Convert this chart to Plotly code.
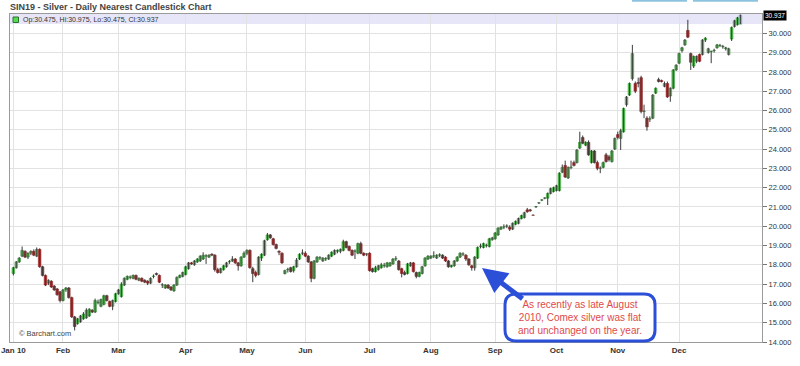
import plotly.graph_objects as go
import pandas as pd

# ---------------- data ----------------
holidays = ["2010-01-18", "2010-02-15", "2010-04-02", "2010-05-31",
            "2010-07-05", "2010-09-06", "2010-11-25", "2010-12-24"]
days = [d.strftime("%Y-%m-%d") for d in pd.bdate_range("2010-01-06", "2010-12-31")
        if d.strftime("%Y-%m-%d") not in holidays]

opens = [
    17.55,17.85,18.15,18.45,18.70,18.40,18.60,18.70,18.45,18.80,17.90,17.45,17.05,17.15,16.90,16.75,16.60,
    16.15,16.70,16.80,16.30,15.30,14.95,15.05,15.20,15.25,15.35,15.65,15.55,16.05,15.85,15.95,16.40,16.10,15.85,16.10,
    16.50,16.35,16.95,17.25,17.35,17.30,17.45,17.20,17.30,17.20,17.15,17.05,17.40,17.55,17.45,16.95,16.80,16.95,16.85,16.65,16.95,17.35,17.40,
    17.50,17.80,18.10,18.00,18.15,18.20,18.30,18.45,18.40,18.55,18.50,17.75,17.60,17.75,17.90,18.15,18.20,18.30,18.10,17.95,18.40,
    18.60,18.75,17.80,17.60,17.50,18.35,18.50,19.30,19.55,19.35,19.05,18.70,18.60,17.55,17.75,17.85,17.70,17.90,18.30,18.60,
    18.60,18.45,18.15,17.30,18.15,18.35,18.20,18.30,18.30,18.45,18.55,18.70,18.70,18.75,19.20,18.95,18.75,18.70,18.60,19.10,18.60,18.55,
    18.60,17.80,17.65,17.75,17.85,17.95,17.90,17.95,18.05,18.30,18.20,17.80,17.60,17.55,17.95,18.10,17.60,17.40,17.55,17.95,18.30,
    18.35,18.45,18.35,18.50,18.50,18.40,18.20,17.90,17.95,18.20,18.40,18.55,18.50,18.30,17.95,17.85,18.35,18.95,18.90,19.00,18.95,19.30,
    19.35,19.55,19.85,19.95,20.00,19.95,19.85,20.10,20.15,20.40,20.45,20.85,20.85,20.58,21.00,21.20,21.35,21.45,21.45,21.70,21.80,
    21.85,21.85,22.80,23.15,22.50,23.05,23.30,23.30,24.05,24.60,24.20,24.35,23.30,23.90,23.30,23.00,23.05,23.70,23.60,23.35,24.00,
    24.75,24.55,24.90,26.30,26.80,27.65,27.40,27.45,27.70,25.95,25.60,25.55,25.60,26.90,27.60,27.55,27.25,27.40,26.75,27.15,28.10,
    28.45,29.10,29.40,30.15,28.95,28.30,28.55,28.90,28.90,29.65,29.00,29.05,29.10,29.25,29.35,29.30,29.20,28.90,29.70,30.35,30.45,30.475,
]
highs = [
    17.90,18.20,18.40,18.95,18.75,18.65,18.75,18.80,18.90,18.85,17.95,17.50,17.25,17.20,16.95,16.80,16.65,
    16.75,16.85,16.85,16.35,15.35,15.25,15.40,15.55,15.75,15.75,15.70,16.25,16.20,16.25,16.45,16.45,16.15,16.20,16.55,
    16.75,17.10,17.35,17.45,17.45,17.50,17.50,17.35,17.35,17.25,17.20,17.35,17.50,17.60,17.50,17.05,17.00,17.00,16.90,17.00,17.40,17.50,17.65,
    17.95,18.15,18.15,18.25,18.35,18.50,18.65,18.55,18.55,18.60,18.55,17.85,17.85,18.00,18.15,18.25,18.45,18.35,18.15,18.45,18.70,
    18.80,18.80,17.90,17.70,18.45,18.60,19.30,19.65,19.60,19.40,19.10,18.75,18.65,17.75,17.85,17.90,17.95,18.35,18.60,18.80,
    18.70,18.50,18.20,18.25,18.45,18.45,18.40,18.40,18.55,18.70,18.80,18.80,18.85,19.30,19.25,19.00,18.80,18.80,19.15,19.20,18.65,18.60,
    18.65,17.85,17.95,18.00,18.10,18.10,18.15,18.15,18.35,18.45,18.25,17.85,17.70,18.10,18.15,18.15,17.65,17.65,17.95,18.40,18.50,
    18.50,18.70,18.55,18.60,18.55,18.45,18.25,18.00,18.25,18.45,18.65,18.65,18.55,18.35,18.00,18.45,18.95,19.10,19.15,19.10,19.40,19.45,
    19.70,19.95,20.00,20.10,20.10,20.05,20.20,20.30,20.45,20.60,20.75,20.95,20.90,20.60,21.05,21.25,21.40,21.50,21.75,22.00,22.05,
    22.15,22.80,23.20,23.40,23.10,23.40,23.40,24.00,24.90,24.70,24.40,24.45,23.95,23.95,23.40,23.10,23.35,23.80,23.70,23.95,24.60,
    24.90,25.05,26.15,26.75,27.45,29.40,27.50,27.70,27.80,26.30,25.70,25.70,26.85,27.20,27.70,27.60,27.50,27.50,27.20,28.15,28.40,
    29.00,29.30,29.70,30.70,29.00,28.85,28.85,28.95,29.70,29.80,29.25,29.10,29.20,29.45,29.45,29.40,29.30,29.25,30.35,30.70,30.85,30.975,
]
lows = [
    17.45,17.80,18.10,18.40,18.35,18.30,18.50,18.45,18.40,17.85,17.40,16.90,16.95,16.80,16.65,16.40,16.05,
    16.10,16.60,16.25,15.25,14.60,14.90,15.00,15.15,15.20,15.30,15.50,15.50,15.95,15.80,15.90,16.10,15.80,15.65,16.05,
    16.45,16.30,16.90,17.20,17.25,17.25,17.20,17.15,17.10,17.05,16.95,17.00,17.30,17.45,17.05,16.80,16.75,16.75,16.65,16.60,16.90,17.30,17.35,
    17.45,17.75,18.00,17.95,18.10,18.15,18.25,18.05,18.35,18.45,17.65,17.55,17.55,17.70,17.85,18.05,18.15,18.05,17.70,17.90,18.35,
    18.50,17.80,17.10,17.35,17.45,18.20,18.45,19.25,19.35,19.00,18.80,18.50,18.05,17.50,17.60,17.60,17.60,17.85,18.25,18.50,
    18.40,18.10,17.10,17.25,18.10,18.25,18.15,18.20,18.25,18.40,18.50,18.60,18.60,18.70,18.85,18.70,18.45,18.30,18.55,18.55,18.45,18.45,
    17.65,17.60,17.60,17.70,17.80,17.85,17.85,17.90,18.00,18.20,17.70,17.35,17.45,17.50,17.90,17.60,17.30,17.35,17.50,17.90,18.25,
    18.30,18.35,18.30,18.40,18.30,18.15,17.85,17.85,17.90,18.15,18.35,18.45,18.20,17.95,17.70,17.70,18.30,18.85,18.85,18.90,18.90,19.25,
    19.30,19.50,19.80,19.85,19.90,19.75,19.80,20.05,20.10,20.35,20.40,20.70,20.75,20.55,20.95,21.15,21.30,21.40,21.10,21.65,21.75,
    21.80,21.80,22.75,22.50,22.45,22.95,23.10,23.25,24.00,24.25,24.15,23.65,23.25,23.25,22.90,22.75,23.00,23.30,23.35,23.30,23.95,
    24.50,23.95,24.85,26.20,26.75,27.55,26.90,27.20,25.85,25.60,24.95,25.40,25.55,26.85,27.45,27.45,27.20,26.65,26.45,27.10,28.05,
    28.40,29.00,29.35,29.75,28.10,28.20,28.45,28.50,28.85,29.55,28.95,28.45,29.00,29.20,29.30,29.20,29.10,28.85,29.60,30.30,30.40,30.475,
]
closes = [
    17.85,18.15,18.35,18.75,18.40,18.60,18.70,18.50,18.80,17.90,17.45,16.95,17.20,16.85,16.70,16.45,16.15,
    16.70,16.80,16.30,15.30,14.80,15.20,15.35,15.45,15.65,15.70,15.55,16.15,16.07,16.20,16.40,16.15,15.85,16.15,16.50,
    16.70,17.00,17.30,17.40,17.37,17.45,17.25,17.30,17.15,17.10,17.05,17.30,17.42,17.50,17.10,16.97,16.95,16.80,16.70,16.95,17.35,17.45,17.60,
    17.90,18.10,18.05,18.20,18.30,18.45,18.50,18.47,18.50,18.50,17.75,17.60,17.80,17.95,18.10,18.17,18.30,18.10,17.95,18.40,18.60,
    18.75,17.85,17.55,17.45,18.40,18.55,19.25,19.55,19.40,19.05,18.85,18.65,18.10,17.70,17.77,17.65,17.90,18.25,18.55,18.62,
    18.45,18.15,17.30,18.20,18.40,18.37,18.35,18.32,18.50,18.65,18.75,18.75,18.80,19.20,18.90,18.75,18.50,18.72,19.10,18.60,18.50,18.57,
    17.70,17.65,17.85,17.95,18.00,17.97,18.10,18.10,18.30,18.32,17.75,17.55,17.50,18.05,18.10,17.65,17.40,17.60,17.90,18.35,18.45,
    18.45,18.47,18.50,18.52,18.35,18.20,17.90,17.97,18.20,18.40,18.60,18.57,18.30,18.00,17.85,18.40,18.90,18.97,19.10,19.02,19.35,19.40,
    19.65,19.90,19.95,19.97,20.02,19.85,20.15,20.25,20.40,20.55,20.70,20.75,20.80,20.57,21.02,21.22,21.37,21.47,21.70,21.95,22.00,
    22.10,22.75,23.05,22.55,23.05,23.07,23.15,23.95,24.35,24.30,24.35,23.70,23.90,23.30,23.00,23.02,23.30,23.35,23.45,23.90,24.55,
    24.60,24.95,26.10,26.70,27.40,28.95,27.00,27.40,25.95,25.97,25.15,25.57,26.80,27.15,27.50,27.50,27.40,26.70,27.15,28.10,28.35,
    28.95,29.25,29.65,29.80,28.50,28.80,28.80,28.55,29.65,29.75,29.20,29.07,29.12,29.40,29.37,29.32,29.25,29.20,30.30,30.65,30.80,30.937,
]

month_ticks = ["2010-01-06", "2010-02-01", "2010-03-01", "2010-04-01", "2010-05-03", "2010-06-01",
               "2010-07-01", "2010-08-02", "2010-09-01", "2010-10-01", "2010-11-01", "2010-12-01"]
month_labels = ["Jan 10", "Feb", "Mar", "Apr", "May", "Jun", "Jul", "Aug", "Sep", "Oct", "Nov", "Dec"]
price_ticks = list(range(14, 31))

title_text = "SIN19 - Silver - Daily Nearest Candlestick Chart"
legend_text = "Op:30.475, Hi:30.975, Lo:30.475, Cl:30.937"
note_text = "As recently as late August<br>2010, Comex silver was flat<br>and unchanged on the year."

# ---------------- layout helpers (pixel -> paper) ----------------
W, H = 800, 366
ML, MR, MT, MB = 10, 38, 14, 24
PW, PH = W - ML - MR, H - MT - MB
def px(x):
    return (x - ML) / PW
def py(y):
    return (H - MB - y) / PH

FONT = "Arial, Liberation Sans, sans-serif"
GREEN, GREEN_LINE = "#55dc55", "#2e6e2e"
RED, RED_LINE = "#c42e2e", "#6a1818"
TEAL, TEAL_LINE = "#8fd8cf", "#3c8f86"

# wicks (high-low) as one segmented line
wx, wy = [], []
for d, lo, hi in zip(days, lows, highs):
    wx += [d, d, None]
    wy += [lo, hi, None]

body_base = [min(o, c) for o, c in zip(opens, closes)]
body_len = [abs(c - o) for o, c in zip(opens, closes)]
fill = [GREEN if c >= o else RED for o, c in zip(opens, closes)]
edge = [GREEN_LINE if c >= o else RED_LINE for o, c in zip(opens, closes)]
fill[-1], edge[-1] = TEAL, TEAL_LINE

fig = go.Figure()
fig.add_trace(go.Scatter(x=wx, y=wy, mode="lines", line=dict(color="#3a3a3a", width=1),
                         hoverinfo="skip", showlegend=False, connectgaps=False))
fig.add_trace(go.Bar(x=days, y=body_len, base=body_base, width=0.9,
                     marker=dict(color=fill, line=dict(color=edge, width=0.5)),
                     hoverinfo="skip", showlegend=False))

shapes = []
shapes.append(dict(type="rect", xref="paper", yref="paper", x0=0, x1=1, y0=py(24), y1=1,
                   fillcolor="#e7e5f8", line=dict(width=0), layer="below"))
shapes.append(dict(type="rect", xref="paper", yref="paper", x0=px(13), x1=px(18.5), y0=py(22.5), y1=py(17),
                   fillcolor=GREEN, line=dict(color=GREEN_LINE, width=1)))
for a, b in [(632, 687), (693, 758)]:
    shapes.append(dict(type="line", xref="paper", yref="paper", x0=px(a), x1=px(b), y0=py(0.8), y1=py(0.8),
                       line=dict(color="#8cc3df", width=2)))
bx0, bx1, by0, by1, r = 505, 655, 294, 341, 11
rx, ry = r / PW, r / PH
X0, X1, YT, YB = px(bx0), px(bx1), py(by0), py(by1)
path = (f"M {X0+rx},{YT} L {X1-rx},{YT} Q {X1},{YT} {X1},{YT-ry} L {X1},{YB+ry} "
        f"Q {X1},{YB} {X1-rx},{YB} L {X0+rx},{YB} Q {X0},{YB} {X0},{YB+ry} "
        f"L {X0},{YT-ry} Q {X0},{YT} {X0+rx},{YT} Z")
shapes.append(dict(type="path", xref="paper", yref="paper", path=path,
                   fillcolor="white", line=dict(color="#2c4fd8", width=3)))

annotations = [
    dict(text=f"<b>{title_text}</b>", xref="paper", yref="paper", x=px(8), y=py(7),
         xanchor="left", yanchor="middle", showarrow=False,
         font=dict(family=FONT, size=9, color="#444444")),
    dict(text=legend_text, xref="paper", yref="paper",
         x=px(20.5), y=py(20), xanchor="left", yanchor="middle", showarrow=False,
         font=dict(family=FONT, size=7, color="#333333")),
    dict(text="\u00a9 Barchart.com", xref="paper", yref="paper", x=px(17), y=py(333.5),
         xanchor="left", yanchor="middle", showarrow=False,
         font=dict(family=FONT, size=7.5, color="#444444")),
    dict(text="30.937", xref="paper", yref="y", x=px(763), y=closes[-1],
         xanchor="left", yanchor="middle", showarrow=False, bgcolor="#000000", borderpad=1,
         font=dict(family=FONT, size=6.5, color="#ffffff")),
    dict(text="", xref="paper", yref="paper", x=px(482), y=py(268), showarrow=True,
         ax=42, ay=32, arrowhead=2, arrowsize=1, arrowwidth=5, arrowcolor="#2c4fd8", standoff=0),
    dict(text=note_text, xref="paper", yref="paper", x=px(580), y=py(317.5),
         xanchor="center", yanchor="middle", showarrow=False, align="center",
         font=dict(family=FONT, size=10, color="#e04a4a")),
]

fig.update_layout(
    width=W, height=H, margin=dict(l=ML, r=MR, t=MT, b=MB, autoexpand=False),
    paper_bgcolor="white", plot_bgcolor="white", barmode="overlay",
    shapes=shapes, annotations=annotations,
    xaxis=dict(type="category", categoryorder="array", categoryarray=days, automargin=False,
               range=[-1.15, 256.4],
               tickvals=month_ticks, ticktext=month_labels, ticks="",
               tickfont=dict(family=FONT, size=8, color="#333333", weight="bold"),
               showgrid=True, gridcolor="#e2e2e2", gridwidth=1,
               showline=True, linecolor="#9a9a9a", linewidth=1, mirror=True, fixedrange=True),
    yaxis=dict(side="right", range=[14, 31], tickvals=price_ticks, tickformat=".3f", automargin=False,
               ticks="outside", ticklen=4, tickcolor="#777777",
               tickfont=dict(family=FONT, size=7.5, color="#333333"),
               showgrid=True, gridcolor="#e2e2e2", gridwidth=1, zeroline=False,
               showline=True, linecolor="#9a9a9a", linewidth=1, mirror=True, fixedrange=True),
)

# remove the browser's default 8px page margin so the figure sits at the window origin
fig.write_html("out.html", config={"displayModeBar": False},
               post_script="document.body.style.margin='0';")
